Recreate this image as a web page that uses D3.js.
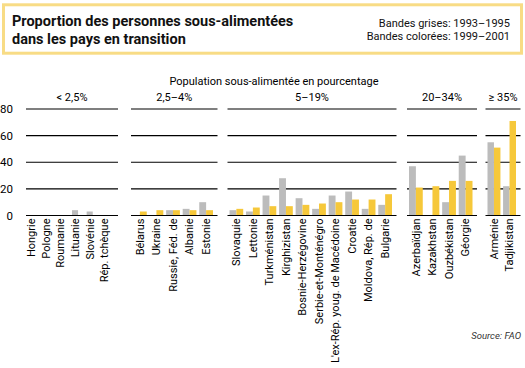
<!DOCTYPE html>
<html>
<head>
<meta charset="utf-8">
<script src="https://cdn.jsdelivr.net/npm/d3@7"></script>
<style>
  body { margin: 0; background: #fff; }
  svg { display: block; font-family: Roboto, "DejaVu Sans", sans-serif; }
</style>
</head>
<body>
<svg id="chart" width="525" height="368"></svg>
<script>
// Data
var groupLabels = ['< 2,5%', '2,5–4%', '5–19%', '20–34%', '≥ 35%'];
var countries = [
  'Hongrie', 'Pologne', 'Roumanie', 'Lituanie', 'Slovénie', 'Rép. tchèque',
  'Bélarus', 'Ukraine', 'Russie, Féd. de', 'Albanie', 'Estonie',
  'Slovaquie', 'Lettonie', 'Turkménistan', 'Kirghizistan', 'Bosnie-Herzégovine',
  'Serbie-et-Monténégro', "L'ex-Rép. youg. de Macédoine", 'Croatie', 'Moldova, Rép. de', 'Bulgarie',
  'Azerbaïdjan', 'Kazakhstan', 'Ouzbékistan', 'Géorgie',
  'Arménie', 'Tadjikistan'
];
var countryGroup = [0,0,0,0,0,0, 1,1,1,1,1, 2,2,2,2,2,2,2,2,2,2, 3,3,3,3, 4,4];
var grey9395 = [0, 0, 0, 4, 3, 0, 0, 0, 4, 5, 10, 4, 3, 15, 28, 13, 5, 15, 18, 5, 8, 37, 0, 10, 45, 55, 22];
var colour9901 = [0, 0, 0, 0, 0, 0, 3, 4, 4, 4, 4, 5, 6, 7, 7, 8, 9, 10, 12, 12, 16, 21, 22, 26, 26, 51, 71];
var yTicks = [0, 20, 40, 60, 80];

// Layout
var groupExtent = [[26, 118], [131, 217.5], [227.5, 396.5], [407, 477], [485.5, 520.5]];
var labelShift = [-3, 0, 0, 0, 0];
var GREY = '#bcbcbc', YELLOW = '#f6c83a';

var svg = d3.select('#chart');

// Title box
svg.append('rect')
    .attr('x', 3.5).attr('y', 4.8)
    .attr('width', 518).attr('height', 48.4)
    .attr('fill', 'none')
    .attr('stroke', '#f8dc85')
    .attr('stroke-width', 3);

var title = svg.append('text')
    .attr('font-size', 14.5)
    .attr('font-weight', 700)
    .attr('fill', '#111');
title.append('tspan').attr('x', 12).attr('y', 25.5).text('Proportion des personnes sous-alimentées');
title.append('tspan').attr('x', 12).attr('y', 43.5).text('dans les pays en transition');

var note = svg.append('text')
    .attr('font-size', 11)
    .attr('text-anchor', 'end')
    .attr('fill', '#111');
note.append('tspan').attr('x', 510).attr('y', 27).text('Bandes grises: 1993–1995');
note.append('tspan').attr('x', 510).attr('y', 40).text('Bandes colorées: 1999–2001');

// Scales
var y = d3.scaleLinear().domain([0, 80]).range([215.5, 109]);

svg.append('text')
    .attr('x', 274).attr('y', 85)
    .attr('text-anchor', 'middle')
    .attr('font-size', 11)
    .text('Population sous-alimentée en pourcentage');

// y axis labels
var yAxis = svg.append('g')
    .attr('transform', 'translate(13,0)')
    .call(d3.axisLeft(y).tickValues(yTicks).tickSize(0).tickPadding(0));
yAxis.select('.domain').remove();
yAxis.selectAll('text')
    .attr('font-size', 11.5)
    .attr('font-family', 'Roboto, sans-serif')
    .attr('fill', '#000');

groupLabels.forEach(function(label, g) {
    var ext = groupExtent[g];
    var idx = d3.range(countries.length).filter(function(i) { return countryGroup[i] === g; });
    var names = idx.map(function(i) { return countries[i]; });

    var x = d3.scaleBand()
        .domain(names)
        .range([ext[0] + 2, ext[1] - 4.5])
        .paddingInner(0.17)
        .paddingOuter(0);
    var bw = x.bandwidth() / 2;

    var grp = svg.append('g');

    grp.append('text')
        .attr('x', (ext[0] + ext[1]) / 2)
        .attr('y', 101)
        .attr('text-anchor', 'middle')
        .attr('font-size', 11)
        .text(label);

    // gridlines
    grp.selectAll('.grid')
        .data(yTicks.filter(function(t) { return t > 0; }))
        .enter().append('line')
            .attr('class', 'grid')
            .attr('x1', ext[0]).attr('x2', ext[1])
            .attr('y1', function(d) { return y(d); })
            .attr('y2', function(d) { return y(d); })
            .attr('stroke', '#000')
            .attr('stroke-width', 1.2);

    var bars = grp.selectAll('.country')
        .data(idx)
        .enter().append('g')
            .attr('class', 'country')
            .attr('transform', function(i) { return 'translate(' + x(countries[i]) + ',0)'; });

    bars.append('rect')
        .attr('x', 0)
        .attr('width', bw)
        .attr('y', function(i) { return y(grey9395[i]); })
        .attr('height', function(i) { return y(0) - y(grey9395[i]); })
        .attr('fill', GREY);

    bars.append('rect')
        .attr('x', bw)
        .attr('width', bw)
        .attr('y', function(i) { return y(colour9901[i]); })
        .attr('height', function(i) { return y(0) - y(colour9901[i]); })
        .attr('fill', YELLOW);

    // zero line
    grp.append('line')
        .attr('x1', ext[0]).attr('x2', ext[1])
        .attr('y1', y(0)).attr('y2', y(0))
        .attr('stroke', '#000')
        .attr('stroke-width', 1.2);

    // rotated country labels
    var xAxis = grp.append('g')
        .attr('class', 'xaxis')
        .attr('transform', 'translate(' + labelShift[g] + ',' + y(0) + ')')
        .call(d3.axisBottom(x).tickSize(0));
    xAxis.select('.domain').remove();
    xAxis.selectAll('text')
        .attr('font-size', 11)
        .attr('font-family', 'Roboto, sans-serif')
        .attr('fill', '#000')
        .attr('transform', 'rotate(-90)')
        .attr('text-anchor', 'end')
        .attr('x', -3)
        .attr('y', 0)
        .attr('dy', '0.35em');
});

svg.append('text')
    .attr('x', 521).attr('y', 339)
    .attr('text-anchor', 'end')
    .attr('font-size', 9.5)
    .attr('font-style', 'italic')
    .attr('fill', '#333')
    .text('Source: FAO');
</script>
</body>
</html>
